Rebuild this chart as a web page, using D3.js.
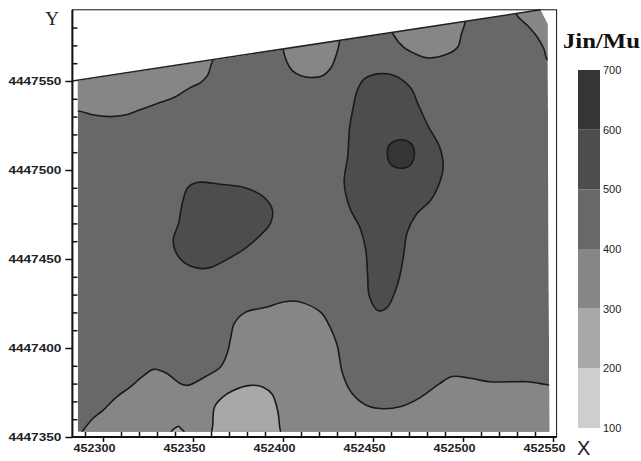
<!DOCTYPE html>
<html>
<head>
<meta charset="utf-8">
<script src="https://cdn.jsdelivr.net/npm/d3@7"></script>
<style>
  body { margin: 0; background: #fff; }
  svg { display: block; }
</style>
</head>
<body>
<div id="chart"></div>
<script>
// survey grid origin; all patch points are [metres east, metres north] of it
const X0 = 452300;
const Y0 = 4447350;

const xTicks = [452300, 452350, 452400, 452450, 452500, 452550];
const yTicks = [4447350, 4447400, 4447450, 4447500, 4447550];
const bands = [100, 200, 300, 400, 500, 600, 700];
const bandGrays = ['#cecece', '#a8a8a8', '#868686', '#686868', '#4d4d4d', '#353535'];

// field outline and its slanted north edge
const fieldEdge = [[-14, 200], [243, 240], [247, 232], [248, 3], [-14, 3]];
const northEdge = [[-17, 200], [243, 240]];

// yield patches (band = lower bound, Jin/Mu)
const northWestLow = [[-24, 217], [-24, 183], [-13, 183], [-6, 181], [4, 180], [13, 181], [21, 184],
  [32, 188], [40, 191], [48, 196], [54, 199], [58, 203], [60, 209], [62, 219]];
const northLowA = [[99, 229], [100, 218], [102, 211], [105, 206], [110, 203], [115, 202], [122, 203],
  [127, 208], [129, 213], [131, 220], [131, 231]];
const northLowB = [[160, 231], [162, 225], [167, 219], [174, 215], [180, 213], [191, 215], [197, 219],
  [199, 226], [201, 237]];
const northEastLow = [[229, 243], [230, 237], [236, 231], [241, 225], [245, 218], [247, 212],
  [254, 212], [254, 243]];
const southLow = [[-18, -7], [-15, -2], [-6, 10], [0, 15], [7, 22], [15, 28], [22, 34], [28, 38],
  [35, 36], [43, 30], [47, 29], [57, 34], [65, 39], [69, 47], [71, 56], [73, 64], [79, 70], [91, 73],
  [101, 76], [109, 76], [121, 70], [126, 62], [130, 52], [133, 36], [138, 25], [146, 18], [154, 16],
  [165, 17], [176, 22], [187, 30], [194, 34], [204, 33], [215, 31], [226, 31], [236, 31], [243, 30],
  [249, 29], [257, 29], [257, -7]];
const southLower = [[61, -4], [61, 7], [62, 17], [66, 22], [72, 26], [82, 29], [89, 28], [94, 24],
  [97, 15], [98, 7], [98, -4]];
const southDip = [[38, -2], [38, 3], [40, 5], [42, 6], [43, 5], [45, 3], [45, -2]];
const westHigh = [[52, 143], [65, 142], [79, 140], [89, 135], [94, 128], [93, 120], [86, 112], [79, 106],
  [71, 101], [59, 95], [52, 95], [44, 99], [40, 105], [39, 111], [42, 120], [44, 131], [47, 140]];
const centreHigh = [[153, 204], [162, 203], [171, 196], [175, 187], [181, 174], [187, 163], [189, 152],
  [187, 143], [182, 133], [174, 125], [169, 115], [167, 102], [165, 91], [162, 81], [158, 73], [153, 71],
  [148, 79], [147, 91], [146, 105], [143, 117], [137, 129], [134, 143], [136, 158], [137, 174], [139, 185],
  [141, 194], [145, 201]];
const centrePeak = [[165, 167], [171, 165], [173, 160], [171, 153], [166, 151], [160, 153], [158, 158], [159, 164]];

const patches = [
  { band: 300, pts: southLow },
  { band: 200, pts: southLower },
  { band: 200, pts: southDip },
  { band: 300, pts: northWestLow },
  { band: 300, pts: northLowA },
  { band: 300, pts: northLowB },
  { band: 300, pts: northEastLow },
  { band: 500, pts: westHigh },
  { band: 500, pts: centreHigh },
  { band: 600, pts: centrePeak }
];

document.addEventListener('DOMContentLoaded', function() {
    const width = 641;
    const height = 461;

    const svg = d3.select('#chart').append('svg')
        .attr('width', width)
        .attr('height', height);

    const x = d3.scaleLinear().domain([452300, 452550]).range([103, 553]);
    const y = d3.scaleLinear().domain([4447350, 4447550]).range([437, 81]);
    const color = d3.scaleThreshold().domain(bands.slice(1, -1)).range(bandGrays);

    const left = x(452283), right = x(452552), top = y(4447590), bottom = y(4447350);

    const ring = d3.line()
        .x(d => x(X0 + d[0]))
        .y(d => y(Y0 + d[1]))
        .curve(d3.curveCatmullRomClosed.alpha(0.5));
    const straight = d3.line()
        .x(d => x(X0 + d[0]))
        .y(d => y(Y0 + d[1]));

    svg.append('clipPath').attr('id', 'field')
        .append('path').attr('d', straight(fieldEdge) + 'Z');

    const map = svg.append('g').attr('clip-path', 'url(#field)');

    // base band covers the whole field
    map.append('path')
        .attr('d', straight(fieldEdge) + 'Z')
        .attr('fill', color(450));

    map.selectAll('path.patch')
        .data(patches)
        .enter().append('path')
        .attr('class', 'patch')
        .attr('d', d => ring(d.pts))
        .attr('fill', d => color(d.band + 50))
        .attr('stroke', '#1a1a1a')
        .attr('stroke-width', 1.6);

    svg.append('path')
        .attr('d', straight(northEdge))
        .attr('fill', 'none')
        .attr('stroke', '#222')
        .attr('stroke-width', 1.5);

    // frame
    svg.append('rect')
        .attr('x', left).attr('y', top)
        .attr('width', right - left).attr('height', bottom - top)
        .attr('fill', 'none').attr('stroke', '#111').attr('stroke-width', 1);

    const tickFont = g => g.selectAll('text')
        .attr('font-family', 'Liberation Sans, Arial, sans-serif')
        .attr('font-weight', 'bold')
        .attr('fill', '#222');

    // y axis
    const yMinor = d3.range(4447360, 4447590, 10).filter(v => v % 50 !== 0);
    svg.append('g')
        .attr('transform', `translate(${left},0)`)
        .call(d3.axisRight(y).tickValues(yMinor).tickSize(5).tickFormat(''))
        .call(g => g.select('.domain').remove())
        .call(g => g.selectAll('line').attr('stroke', '#111').attr('stroke-width', 1.5));
    svg.append('g')
        .attr('transform', `translate(${left},0)`)
        .call(d3.axisLeft(y).tickValues(yTicks).tickSize(7).tickPadding(4).tickFormat(d3.format('d')))
        .call(g => g.select('.domain').remove())
        .call(g => g.selectAll('line').attr('stroke', '#111').attr('stroke-width', 1.5))
        .call(tickFont)
        .call(g => g.selectAll('text').attr('font-size', 10)
            .attr('textLength', 53).attr('lengthAdjust', 'spacingAndGlyphs'));

    // x axis
    const xMinor = d3.range(452290, 452550, 10).filter(v => v % 50 !== 0);
    svg.append('g')
        .attr('transform', `translate(0,${bottom})`)
        .call(d3.axisTop(x).tickValues(xMinor).tickSize(5).tickFormat(''))
        .call(g => g.select('.domain').remove())
        .call(g => g.selectAll('line').attr('stroke', '#111').attr('stroke-width', 1.5));
    svg.append('g')
        .attr('transform', `translate(0,${bottom})`)
        .call(d3.axisBottom(x).tickValues(xTicks).tickSize(5).tickPadding(3).tickFormat(d3.format('d')))
        .call(g => g.select('.domain').remove())
        .call(g => g.selectAll('line').attr('stroke', '#111').attr('stroke-width', 1.5))
        .call(tickFont)
        .call(g => g.selectAll('text').attr('font-size', 10).attr('x', -9)
            .attr('textLength', 42).attr('lengthAdjust', 'spacingAndGlyphs'));

    // thick left and bottom axis lines
    svg.append('path')
        .attr('d', `M${left},${top}V${bottom}H${right}`)
        .attr('fill', 'none').attr('stroke', '#111').attr('stroke-width', 2);

    svg.append('text')
        .attr('x', 52).attr('y', 25)
        .attr('text-anchor', 'middle')
        .attr('font-family', 'Liberation Serif, Times New Roman, serif')
        .attr('font-size', 19)
        .attr('fill', '#222')
        .text('Y');
    svg.append('text')
        .attr('x', 577).attr('y', 455)
        .attr('font-family', 'Liberation Sans Narrow, Liberation Sans, Arial, sans-serif')
        .attr('font-size', 20)
        .attr('fill', '#222')
        .text('X');

    // legend
    const ly = d3.scaleLinear().domain([100, 700]).range([428, 70]);
    const legend = svg.append('g');
    legend.selectAll('rect')
        .data(bands.slice(0, -1))
        .enter().append('rect')
        .attr('x', 578)
        .attr('width', 22)
        .attr('y', d => ly(d + 100))
        .attr('height', d => ly(d) - ly(d + 100))
        .attr('fill', d => color(d + 50));
    legend.selectAll('text.lab')
        .data(bands)
        .enter().append('text')
        .attr('class', 'lab')
        .attr('x', 603)
        .attr('y', d => ly(d) + 4)
        .attr('font-family', 'Liberation Sans Narrow, Liberation Sans, Arial, sans-serif')
        .attr('font-size', 11)
        .attr('fill', '#222')
        .text(d => d);
    legend.append('text')
        .attr('x', 563).attr('y', 48)
        .attr('font-family', 'Liberation Serif, Times New Roman, serif')
        .attr('font-weight', 'bold')
        .attr('font-size', 20)
        .attr('textLength', 77)
        .attr('lengthAdjust', 'spacingAndGlyphs')
        .attr('fill', '#111')
        .text('Jin/Mu');
});
</script>
</body>
</html>
